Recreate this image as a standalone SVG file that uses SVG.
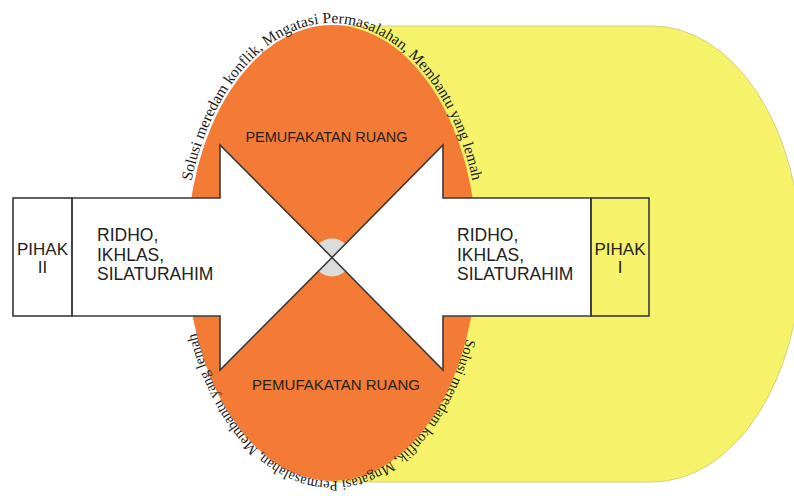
<svg xmlns="http://www.w3.org/2000/svg" xmlns:xlink="http://www.w3.org/1999/xlink" width="794" height="496" viewBox="0 0 794 496">
  <style>
    .box { fill: none; stroke: #3a3a3a; stroke-width: 1.6; }
    .arrow { fill: #ffffff; stroke: #3a3a3a; stroke-width: 1.6; stroke-linejoin: miter; }
    .label { font-family: "Liberation Sans", Arial, sans-serif; fill: #222222; }
    .curve { font-family: "Liberation Serif", "Times New Roman", serif; fill: #1a1a1a; }
  </style>
  <defs>
    <!-- baseline paths for the curved captions around the ellipse -->
    <path id="arcTop" d="M 184 253 A 148 230 0 0 1 480 253"/>
    <path id="arcBottom" d="M 477 253 A 145 228 0 0 1 187 253"/>
  </defs>

  <rect width="794" height="496" fill="#ffffff"/>

  <!-- yellow stadium behind everything -->
  <g id="zone-yellow">
    <path d="M 332 26 H 652 A 149 228 0 0 1 652 482 H 332 Z" fill="#f6f36a" stroke="#d6d07a" stroke-width="1"/>
  </g>

  <!-- orange ellipse -->
  <g id="zone-orange">
    <ellipse cx="332" cy="253" rx="145" ry="228" fill="#f47b35"/>
  </g>

  <!-- grey hub where the two arrow tips meet -->
  <g id="hub">
    <circle cx="332" cy="257.5" r="19" fill="#dcdcdc"/>
  </g>

  <g id="connectors">
    <polygon id="arrow-left" class="arrow" points="72,198 220,198 220,145 332,257.5 220,370 220,316 72,316"/>
    <polygon id="arrow-right" class="arrow" points="591,198 443,198 443,145 332,257.5 443,370 443,316 591,316"/>
  </g>

  <g id="pihak-ii">
    <rect class="box" x="13" y="198" width="59" height="118"/>
    <text class="label" font-size="17" text-anchor="middle" x="42.5" y="255">PIHAK</text>
    <text class="label" font-size="17" text-anchor="middle" x="42.5" y="273">II</text>
  </g>

  <g id="pihak-i">
    <rect class="box" x="591" y="198" width="58" height="118"/>
    <text class="label" font-size="17" text-anchor="middle" x="620" y="255">PIHAK</text>
    <text class="label" font-size="17" text-anchor="middle" x="620" y="273">I</text>
  </g>

  <g id="nilai-kiri">
    <text class="label" font-size="17.5" x="97" y="241">RIDHO,</text>
    <text class="label" font-size="17.5" x="97" y="260.5">IKHLAS,</text>
    <text class="label" font-size="17.5" x="97" y="280">SILATURAHIM</text>
  </g>

  <g id="nilai-kanan">
    <text class="label" font-size="17.5" x="457" y="241">RIDHO,</text>
    <text class="label" font-size="17.5" x="457" y="260.5">IKHLAS,</text>
    <text class="label" font-size="17.5" x="457" y="280">SILATURAHIM</text>
  </g>

  <g id="ruang-atas">
    <text class="label" font-size="14.5" text-anchor="middle" x="326.5" y="142">PEMUFAKATAN RUANG</text>
  </g>

  <g id="ruang-bawah">
    <text class="label" font-size="15" text-anchor="middle" x="336" y="390">PEMUFAKATAN RUANG</text>
  </g>

  <g id="caption-top">
    <text class="curve" font-size="15.5"><textPath xlink:href="#arcTop" href="#arcTop" startOffset="50%" text-anchor="middle">Solusi meredam konflik, Mngatasi Permasalahan, Membantu yang lemah</textPath></text>
  </g>

  <g id="caption-bottom">
    <text class="curve" font-size="14.5"><textPath xlink:href="#arcBottom" href="#arcBottom" startOffset="50.5%" text-anchor="middle">Solusi meredam konflik, Mngatasi Permasalahan, Membantu yang lemah</textPath></text>
  </g>
</svg>
